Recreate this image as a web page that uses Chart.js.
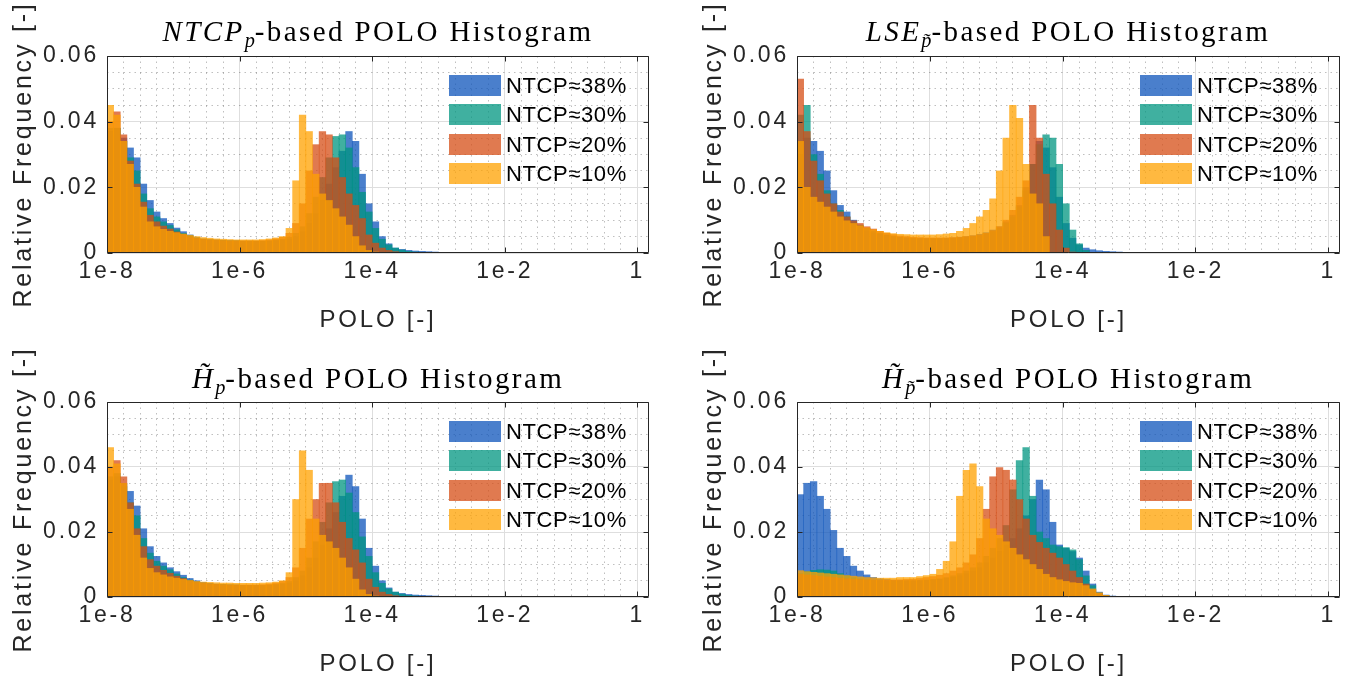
<!DOCTYPE html>
<html>
<head>
<meta charset="utf-8">
<script src="https://cdn.jsdelivr.net/npm/chart.js@4.4.1/dist/chart.umd.min.js"></script>
<style>
  body { margin: 0; background: #fff; }
  #page { position: relative; width: 1349px; height: 684px; overflow: hidden; background: #fff; }
  .panel { position: absolute; }
  .ptitle {
    position: absolute; white-space: nowrap; transform: translateX(-50%);
    font-family: "Liberation Serif", "Times New Roman", serif; font-size: 29px;
    letter-spacing: 2.4px; line-height: 28px; color: #000;
  }
  .ptitle sub { font-size: 0.7em; vertical-align: -0.3em; line-height: 0; letter-spacing: 0; }
  .legend { position: absolute; font-family: "Liberation Sans", Arial, sans-serif; font-size: 22px; color: #000; letter-spacing: 0.6px; }
  .legend .row { position: relative; height: 29.3px; }
  .legend .patch { position: absolute; left: 0; top: 0; width: 52px; height: 21px; }
  .legend .txt { position: absolute; left: 57px; top: -2px; line-height: 25px; white-space: nowrap; }
</style>
</head>
<body>
<div id="page"></div>
<script>
// bin centres, log10(POLO)
const binCenters = [
  -7.95, -7.85, -7.75, -7.65, -7.55, -7.45, -7.35, -7.25, -7.15, -7.05,
  -6.95, -6.85, -6.75, -6.65, -6.55, -6.45, -6.35, -6.25, -6.15, -6.05,
  -5.95, -5.85, -5.75, -5.65, -5.55, -5.45, -5.35, -5.25, -5.15, -5.05,
  -4.95, -4.85, -4.75, -4.65, -4.55, -4.45, -4.35, -4.25, -4.15, -4.05,
  -3.95, -3.85, -3.75, -3.65, -3.55, -3.45, -3.35, -3.25, -3.15, -3.05,
  -2.95, -2.85, -2.75
];

const seriesLabels = ['NTCP≈38%', 'NTCP≈30%', 'NTCP≈20%', 'NTCP≈10%'];

const xTickLogs = [-8, -6, -4, -2, 0];
const xTickLabels = ['1e-8', '1e-6', '1e-4', '1e-2', '1'];
const yTickValues = [0, 0.02, 0.04, 0.06];
const yTickLabels = ['0', '0.02', '0.04', '0.06'];

// NTCP_p-based
const ntcp38 = [.037,.038,.035,.032,.029,.021,.016,.0125,.0105,.009, .0076,.0065,.0055,.0047,.0043,.0041,.004,.0039,.0038,.0037, .0036,.0036,.0035,.0035,.0036,.0037,.0039,.0043,.005,.0065, .009,.012,.016,.021,.026,.031,.037,.034,.024,.015, .0095,.005,.0028,.0015,.0011,.0008,.0006,.0005,.0004,.0003, .0002,.0001];
const ntcp30 = [.038,.038,.034,.029,.025,.018,.0135,.011,.0095,.0084, .0071,.006,.0052,.0046,.0042,.004,.0039,.0038,.0037,.0037, .0036,.0036,.0036,.0036,.0037,.0039,.0042,.0048,.006,.008, .012,.017,.023,.029,.0355,.036,.032,.026,.0185,.0125, .0075,.0042,.0025,.0015,.0009,.0005,.0003,.0002,.0001];
const ntcp20 = [.040,.043,.036,.028,.021,.0155,.0115,.0095,.0082,.0073, .0064,.0057,.005,.0045,.0042,.004,.0039,.0038,.0037,.0037, .0037,.0037,.0037,.0038,.004,.0043,.0048,.006,.009,.015, .025,.033,.037,.036,.029,.023,.018,.0145,.0105,.0055, .003,.0015,.0008,.0004,.0002];
const ntcp10 = [.045,.042,.034,.027,.020,.014,.0095,.008,.0072,.0066, .0062,.0058,.0054,.005,.0047,.0045,.0043,.0042,.0041,.004, .004,.004,.004,.0041,.0043,.0046,.005,.0075,.022,.042, .037,.024,.018,.016,.0135,.011,.0085,.005,.0022,.0008, .0003,.0001];

// LSE_p~-based
const lse38 = [.030,.035,.034,.031,.025,.019,.0145,.0125,.010,.008, .0068,.0062,.0057,.0054,.005,.0048,.0046,.0045,.0044,.0044, .0044,.0044,.0045,.0046,.0048,.005,.0053,.0057,.0062,.007, .008,.0095,.0115,.0145,.02,.027,.034,.032,.026,.017, .009,.0045,.0025,.0015,.001,.0007,.0005,.0004,.0003,.0002, .0001];
const lse30 = [.042,.045,.030,.024,.019,.015,.013,.011,.0095,.0085, .0075,.0067,.006,.0055,.0051,.0048,.0046,.0045,.0044,.0044, .0044,.0044,.0044,.0045,.0046,.0048,.005,.0053,.0058,.0065, .0075,.009,.011,.014,.019,.027,.033,.036,.035,.027, .015,.007,.0028,.0008,.0002];
const lse20 = [.053,.037,.028,.022,.018,.015,.0125,.011,.0098,.009, .008,.0073,.0066,.006,.0056,.0052,.005,.0048,.0047,.0046, .0046,.0046,.0046,.0047,.0048,.005,.0052,.0055,.006,.0068, .008,.010,.013,.017,.022,.045,.035,.024,.015,.007, .0015,.0003];
const lse10 = [.034,.020,.017,.0155,.014,.0125,.011,.0098,.009,.0083, .0077,.0071,.0066,.0062,.0059,.0057,.0056,.0055,.0055,.0055, .0055,.0056,.0058,.006,.0066,.0075,.009,.011,.013,.0165, .025,.035,.045,.041,.027,.018,.015,.005];

// H_p-based
const hp38 = [.036,.037,.035,.0325,.028,.021,.0155,.0125,.0105,.009, .0078,.0067,.0057,.005,.0045,.0042,.004,.0039,.0038,.0037, .0036,.0036,.0035,.0035,.0036,.0037,.0039,.0043,.005,.0065, .009,.012,.016,.021,.026,.031,.0375,.034,.024,.015, .0095,.005,.0028,.0015,.0011,.0008,.0006,.0005,.0004,.0003, .0002,.0001];
const hp30 = [.037,.038,.034,.029,.025,.018,.0135,.011,.0095,.0084, .0071,.006,.0052,.0046,.0042,.004,.0039,.0038,.0037,.0037, .0036,.0036,.0036,.0036,.0037,.0039,.0042,.0048,.006,.008, .012,.017,.023,.029,.0355,.036,.032,.026,.0185,.0125, .0075,.0042,.0025,.0015,.0009,.0005,.0003,.0002,.0001];
const hp20 = [.040,.042,.037,.029,.021,.0155,.0115,.0095,.0082,.0073, .0064,.0057,.005,.0045,.0042,.004,.0039,.0038,.0037,.0037, .0037,.0037,.0037,.0038,.004,.0043,.0048,.006,.009,.015, .024,.030,.035,.035,.029,.023,.018,.0145,.0105,.0055, .003,.0015,.0008,.0004,.0002];
const hp10 = [.046,.041,.035,.027,.019,.012,.0088,.0075,.0068,.0062, .0058,.0054,.0051,.0048,.0046,.0045,.0044,.0043,.0043,.0042, .0042,.0042,.0042,.0043,.0044,.0046,.005,.0075,.030,.045, .039,.024,.019,.017,.015,.012,.009,.0055,.0022,.0008, .0003,.0001];

// H_p~-based
const hpt38 = [.0315,.035,.0355,.031,.027,.0205,.015,.0125,.0095,.008, .0068,.006,.0056,.0054,.0052,.0051,.005,.005,.005,.0051, .0052,.0054,.0057,.006,.0065,.0072,.008,.009,.0105,.012, .014,.016,.018,.021,.025,.030,.036,.033,.023,.016, .015,.014,.012,.008,.004,.0015,.0006,.0003,.0002,.0001];
const hpt30 = [.0072,.0078,.0082,.0084,.0083,.008,.0072,.0065,.006,.0056, .0053,.0051,.005,.0049,.0049,.0049,.005,.005,.0051,.0052, .0054,.0056,.006,.0065,.0072,.008,.009,.0105,.0125,.015, .018,.022,.033,.042,.046,.031,.020,.018,.016,.0155, .0152,.0145,.0115,.0065,.0035,.0012,.0004,.0001];
const hpt20 = [.007,.0068,.0066,.0064,.0062,.006,.0058,.0056,.0055,.0054, .0053,.0052,.0052,.0052,.0052,.0053,.0054,.0055,.0057,.006, .0063,.0067,.0072,.008,.009,.0105,.013,.018,.027,.037, .0398,.039,.036,.030,.024,.019,.0168,.015,.0135,.012, .010,.008,.006,.004,.0022,.0011,.0004,.0001];
const hpt10 = [.0081,.0078,.0076,.0074,.0072,.007,.0068,.0066,.0064,.0062, .006,.0059,.0058,.0058,.0058,.006,.006,.006,.0063,.0066, .007,.0085,.011,.017,.031,.039,.041,.034,.024,.021, .019,.017,.015,.013,.0115,.010,.0085,.007,.006,.0053, .0048,.0044,.0042,.0035,.0025,.0013,.0005,.0001];

const seriesFill = [
  'rgba(14, 84, 187, 0.75)',
  'rgba(0, 150, 128, 0.75)',
  'rgba(213, 78, 22, 0.75)',
  'rgba(255, 161, 0, 0.75)'
];

const panels = [
  { left: 0,   top: 0,   width: 674, height: 340, padTop: 56, padRight: 25, title: '<i>NTCP<sub>p</sub></i>-based POLO Histogram', titleX: 378, titleY: 17, series: [ntcp38, ntcp30, ntcp20, ntcp10] },
  { left: 690, top: 0,   width: 659, height: 340, padTop: 56, padRight: 9,  title: '<i>LSE<sub>p̃</sub></i>-based POLO Histogram', titleX: 1068, titleY: 17, series: [lse38, lse30, lse20, lse10] },
  { left: 0,   top: 342, width: 674, height: 342, padTop: 60, padRight: 25, title: '<i>H̃<sub>p</sub></i>-based POLO Histogram', titleX: 378, titleY: 364, series: [hp38, hp30, hp20, hp10] },
  { left: 690, top: 342, width: 659, height: 342, padTop: 60, padRight: 9,  title: '<i>H̃<sub>p̃</sub></i>-based POLO Histogram', titleX: 1068, titleY: 364, series: [hpt38, hpt30, hpt20, hpt10] }
];

const AXIS_COLOR = '#262626';
const FONT = '"Liberation Sans", Arial, sans-serif';

function isMajorX(v) {
  return xTickLogs.some((t) => Math.abs(t - v) < 1e-6);
}

function isMajorY(v) {
  return yTickValues.some((t) => Math.abs(t - v) < 1e-9);
}

// box round the axes, with the small inward ticks matlab draws
const framePlugin = {
  id: 'frame',
  beforeDraw(chart) {
    chart.ctx.letterSpacing = '2.8px';
  },
  afterDatasetsDraw(chart) {
    const { ctx, chartArea: a, scales } = chart;
    const l = Math.round(a.left) + 0.5;
    const r = Math.round(a.right) - 0.5;
    const t = Math.round(a.top) + 0.5;
    const b = Math.round(a.bottom) - 0.5;
    ctx.save();
    ctx.strokeStyle = AXIS_COLOR;
    ctx.lineWidth = 1;
    ctx.beginPath();
    xTickLogs.forEach((v) => {
      const px = Math.round(scales.x.getPixelForValue(v)) + 0.5;
      ctx.moveTo(px, b); ctx.lineTo(px, b - 5);
      ctx.moveTo(px, t); ctx.lineTo(px, t + 5);
    });
    yTickValues.forEach((v) => {
      const py = Math.round(scales.y.getPixelForValue(v)) + 0.5;
      ctx.moveTo(l, py); ctx.lineTo(l + 5, py);
      ctx.moveTo(r, py); ctx.lineTo(r - 5, py);
    });
    ctx.rect(l, t, r - l, b - t);
    ctx.stroke();
    ctx.restore();
  }
};

// chart.js paints dataset 0 last, so the order is flipped to keep 10% on top
function buildDatasets(series) {
  return series.map((values, i) => ({
    label: seriesLabels[i],
    data: values.map((y, k) => ({ x: binCenters[k], y })),
    backgroundColor: seriesFill[i],
    borderWidth: 0,
    order: series.length - 1 - i,
    grouped: false,
    barPercentage: 1,
    categoryPercentage: 1
  }));
}

function buildLegend(page, p) {
  const legend = document.createElement('div');
  legend.className = 'legend';
  legend.style.left = `${p.left + p.width - p.padRight - 200}px`;
  legend.style.top = `${p.top + p.padTop + 19}px`;
  seriesLabels.forEach((label, i) => {
    const row = document.createElement('div');
    row.className = 'row';
    const patch = document.createElement('div');
    patch.className = 'patch';
    patch.style.background = seriesFill[i];
    const txt = document.createElement('div');
    txt.className = 'txt';
    txt.textContent = label;
    row.appendChild(patch);
    row.appendChild(txt);
    legend.appendChild(row);
  });
  page.appendChild(legend);
}

function buildPanel(page, p) {
  const wrap = document.createElement('div');
  wrap.className = 'panel';
  wrap.style.left = `${p.left}px`;
  wrap.style.top = `${p.top}px`;
  wrap.style.width = `${p.width}px`;
  wrap.style.height = `${p.height}px`;
  const canvas = document.createElement('canvas');
  canvas.width = p.width;
  canvas.height = p.height;
  wrap.appendChild(canvas);
  page.appendChild(wrap);

  const title = document.createElement('div');
  title.className = 'ptitle';
  title.innerHTML = p.title;
  title.style.left = `${p.titleX}px`;
  title.style.top = `${p.titleY}px`;
  page.appendChild(title);

  const chartBottom = p.padTop + (p.top === 0 ? 197 : 195);
  const xAxisHeight = p.height - chartBottom;

  new Chart(canvas, {
    type: 'bar',
    data: { datasets: buildDatasets(p.series) },
    plugins: [framePlugin],
    options: {
      responsive: false,
      animation: false,
      devicePixelRatio: 1,
      layout: { padding: { top: p.padTop, right: p.padRight, left: 0, bottom: 0 } },
      plugins: {
        legend: { display: false },
        tooltip: { enabled: false },
        title: { display: false }
      },
      scales: {
        x: {
          type: 'linear',
          min: -8,
          max: Math.log10(1.5),
          offset: false,
          afterFit(scale) { scale.height = xAxisHeight; },
          grid: {
            offset: false,
            drawTicks: false,
            color: (ctx) => (ctx.tick && isMajorX(ctx.tick.value) ? '#dedede' : 'rgba(0,0,0,0.25)'),
            lineWidth: 1
          },
          border: {
            display: false,
            dash: (ctx) => (ctx.tick && !isMajorX(ctx.tick.value) ? [1.5, 4] : [])
          },
          ticks: {
            stepSize: 0.25,
            autoSkip: false,
            includeBounds: false,
            maxRotation: 0,
            minRotation: 0,
            padding: 5,
            color: AXIS_COLOR,
            font: { family: FONT, size: 23 },
            callback: (v) => {
              const idx = xTickLogs.findIndex((t) => Math.abs(t - v) < 1e-6);
              return idx >= 0 ? xTickLabels[idx] : '';
            }
          },
          title: {
            display: true,
            text: 'POLO [-]',
            color: AXIS_COLOR,
            font: { family: FONT, size: 24 },
            padding: { top: 0, bottom: 5 }
          }
        },
        y: {
          min: 0,
          max: 0.06,
          afterFit(scale) { scale.width = 107; },
          grid: {
            drawTicks: false,
            color: (ctx) => (ctx.tick && isMajorY(ctx.tick.value) ? '#dedede' : 'rgba(0,0,0,0.25)'),
            lineWidth: 1
          },
          border: {
            display: false,
            dash: (ctx) => (ctx.tick && !isMajorY(ctx.tick.value) ? [1.5, 4] : [])
          },
          ticks: {
            stepSize: 0.005,
            autoSkip: false,
            padding: 8,
            color: AXIS_COLOR,
            font: { family: FONT, size: 23 },
            callback: (v) => {
              const idx = yTickValues.findIndex((t) => Math.abs(t - v) < 1e-9);
              return idx >= 0 ? yTickLabels[idx] : '';
            }
          },
          title: {
            display: true,
            text: 'Relative Frequency [-]',
            color: AXIS_COLOR,
            font: { family: FONT, size: 25 },
            padding: { top: 9, bottom: 0 }
          }
        }
      }
    }
  });

  buildLegend(page, p);
}

const page = document.getElementById('page');
panels.forEach((p) => buildPanel(page, p));
</script>
</body>
</html>
